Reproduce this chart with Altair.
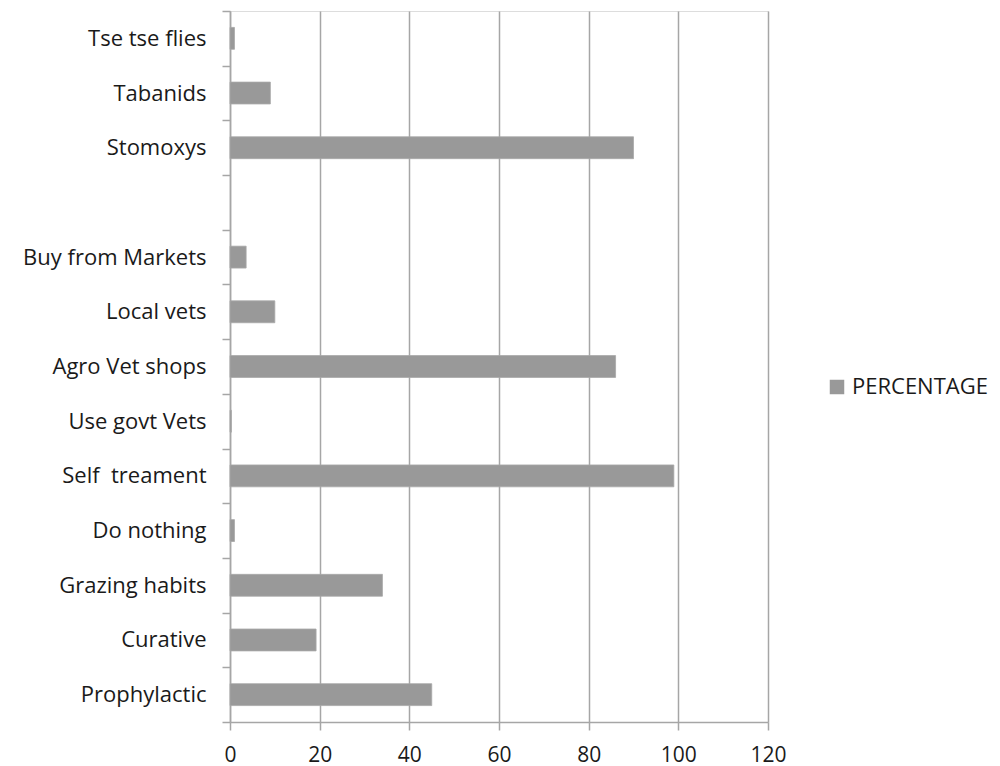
import altair as alt
import pandas as pd

NB = "\u00a0"
categories = [
    "Tse tse flies", "Tabanids" + NB, "Stomoxys", " ",
    "Buy from Markets" + NB, "Local vets" + NB, "Agro Vet shops" + NB,
    "Use govt Vets", "Self" + NB + " treament" + NB, "Do nothing" + NB,
    "Grazing habits" + NB, "Curative" + NB, "Prophylactic",
]
values = [1, 9, 90, None, 3.6, 10, 86, 0.3, 99, 1, 34, 19.2, 45]
series_name = "PERCENTAGE"
x_ticks = [0, 20, 40, 60, 80, 100, 120]

df = pd.DataFrame({"category": categories, "value": values})
df = df[df["value"].notna()].copy()
df["series"] = series_name

FONT = "Open Sans"
GRID = "#a6a6a6"

chart = alt.Chart(df).mark_bar(
    color="#999999", stroke="#a8a8a8", strokeWidth=0.8,
    height=alt.RelativeBandSize(0.4),
).encode(
    x=alt.X(
        "value:Q",
        scale=alt.Scale(domain=[0, 120], nice=False),
        axis=alt.Axis(
            values=x_ticks, title=None, grid=True, gridColor=GRID, gridWidth=1.5,
            domainColor=GRID, domainWidth=1.5, tickColor=GRID, tickWidth=1.5,
            tickSize=8, labelFont=FONT, labelFontSize=21, labelColor="#1a1a1a",
            labelPadding=14, labelFlush=False,
        ),
    ),
    y=alt.Y(
        "category:N",
        scale=alt.Scale(domain=categories, paddingInner=0, paddingOuter=0),
        axis=alt.Axis(
            title=None, tickBand="extent", domainColor=GRID, domainWidth=1.5,
            tickColor=GRID, tickWidth=1.5, tickSize=8, labelFont=FONT,
            labelFontSize=22, labelColor="#1a1a1a", labelPadding=16,
            labelLimit=0,
        ),
    ),
    color=alt.Color(
        "series:N",
        scale=alt.Scale(domain=[series_name], range=["#999999"]),
        legend=alt.Legend(
            title=None, orient="none", legendX=596, legendY=365,
            symbolType="square", symbolSize=210, symbolStrokeWidth=0,
            labelFont=FONT, labelFontSize=22, labelColor="#1a1a1a",
            labelOffset=4,
        ),
    ),
).properties(
    width=538,
    height=711,
    autosize=alt.AutoSizeParams(type="none"),
    padding={"left": 230, "top": 11, "right": 232, "bottom": 44},
).configure_view(stroke=None).configure(background="white")

chart.save("out.html", embed_options={"renderer": "svg", "actions": False})
